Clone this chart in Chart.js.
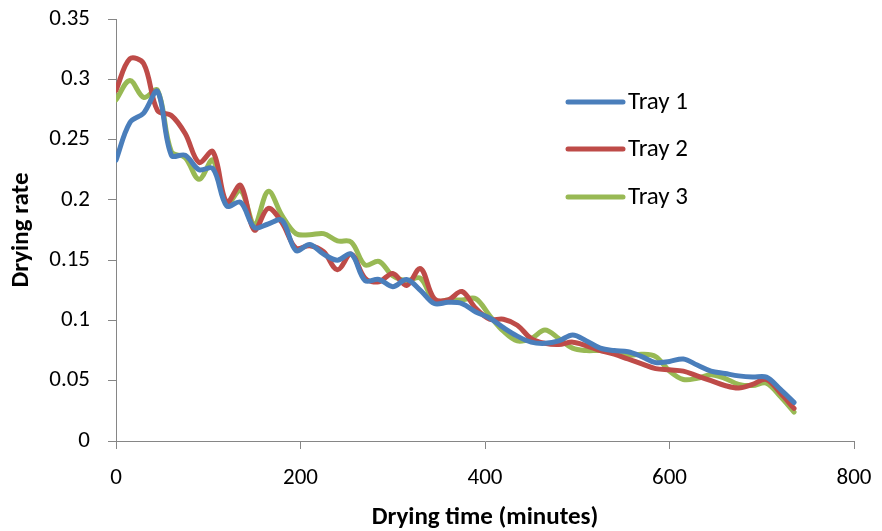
<!DOCTYPE html>
<html>
<head>
<meta charset="utf-8">
<script src="https://cdn.jsdelivr.net/npm/chart.js@4"></script>
<style>
  html, body { margin: 0; padding: 0; background: #fff; }
  #wrap { width: 882px; height: 531px; position: relative; }
</style>
</head>
<body>
<div id="wrap"><canvas id="chart" width="882" height="531"></canvas></div>
<script>
// ===== Drying rate vs time, three trays =====
const TIMES = [0, 15, 30, 45, 60, 75, 90, 105, 120, 135, 150, 165, 180, 195, 210, 225, 240, 255, 270, 285,
    300, 315, 330, 345, 360, 375, 390, 405, 420, 435, 450, 465, 480, 495, 510, 525, 540, 555, 570, 585,
    600, 615, 630, 645, 660, 675, 690, 705, 720, 735];

const TRAY1 = [0.233, 0.264, 0.272, 0.290, 0.237, 0.237, 0.225, 0.226, 0.195, 0.198, 0.177, 0.180, 0.183, 0.158, 0.163, 0.155, 0.150, 0.155, 0.133, 0.134,
    0.128, 0.134, 0.125, 0.114, 0.115, 0.114, 0.107, 0.102, 0.094, 0.087, 0.082, 0.081, 0.083, 0.088, 0.083, 0.077, 0.075, 0.074, 0.070, 0.065,
    0.066, 0.068, 0.063, 0.058, 0.056, 0.054, 0.053, 0.053, 0.043, 0.032];

const TRAY2 = [0.291, 0.317, 0.313, 0.274, 0.270, 0.255, 0.231, 0.240, 0.198, 0.212, 0.175, 0.193, 0.181, 0.160, 0.162, 0.157, 0.142, 0.155, 0.135, 0.132,
    0.139, 0.129, 0.143, 0.118, 0.117, 0.124, 0.110, 0.101, 0.101, 0.096, 0.085, 0.081, 0.080, 0.082, 0.079, 0.075, 0.072, 0.068, 0.064, 0.060,
    0.059, 0.058, 0.054, 0.050, 0.046, 0.044, 0.047, 0.051, 0.040, 0.027];

const TRAY3 = [0.283, 0.299, 0.285, 0.291, 0.240, 0.235, 0.217, 0.233, 0.196, 0.208, 0.180, 0.207, 0.187, 0.172, 0.171, 0.172, 0.166, 0.165, 0.146, 0.149,
    0.137, 0.133, 0.135, 0.116, 0.117, 0.117, 0.118, 0.104, 0.091, 0.083, 0.085, 0.092, 0.085, 0.077, 0.075, 0.075, 0.073, 0.071, 0.072, 0.070,
    0.058, 0.051, 0.052, 0.055, 0.052, 0.047, 0.046, 0.048, 0.037, 0.024];

const SERIES_NAMES = ['Tray 1', 'Tray 2', 'Tray 3'];
const SERIES_COLORS = ['#4A7EBB', '#BE4B48', '#98B954'];
const X_TICKS = [0, 200, 400, 600, 800];
const Y_TICKS = [0, 0.05, 0.1, 0.15, 0.2, 0.25, 0.3, 0.35];

const FONT = 'Carlito, Lato, "Open Sans", sans-serif';
const AXIS_GRAY = '#868686';

function toPoints(ys) {
    return TIMES.map((t, i) => ({ x: t, y: ys[i] }));
}

// legend drawn inside the plot, like the original
const insideLegend = {
    id: 'insideLegend',
    afterDraw(chart) {
        const ctx = chart.ctx;
        const x0 = 568, x1 = 623, rows = [102, 149, 197];
        ctx.save();
        ctx.font = '25px ' + FONT;
        ctx.textBaseline = 'middle';
        ctx.textAlign = 'left';
        chart.data.datasets.forEach((ds, i) => {
            ctx.strokeStyle = ds.borderColor;
            ctx.lineWidth = 5;
            ctx.lineCap = 'round';
            ctx.beginPath();
            ctx.moveTo(x0, rows[i]);
            ctx.lineTo(x1, rows[i]);
            ctx.stroke();
            ctx.fillStyle = '#000';
            ctx.fillText(ds.label, x1 + 5, rows[i] + 1);
        });
        ctx.restore();
    }
};

const datasets = [TRAY1, TRAY2, TRAY3].map((ys, i) => ({
    label: SERIES_NAMES[i],
    data: toPoints(ys),
    borderColor: SERIES_COLORS[i],
    backgroundColor: SERIES_COLORS[i],
    borderWidth: 5,
    pointRadius: 0,
    tension: 0.35,
    borderCapStyle: 'round',
    borderJoinStyle: 'round',
    fill: false,
}));

new Chart(document.getElementById('chart'), {
    type: 'line',
    data: { datasets },
    options: {
        responsive: false,
        animation: false,
        layout: { padding: { left: 0, right: 28, top: 19, bottom: 0 } },
        plugins: { legend: { display: false }, tooltip: { enabled: false } },
        scales: {
            x: {
                type: 'linear',
                min: 0, max: 800,
                afterBuildTicks: s => { s.ticks = X_TICKS.map(v => ({ value: v })); },
                afterFit: s => { s.height = 90; s.paddingLeft = 0; s.paddingRight = 0; },
                grid: { drawOnChartArea: false, drawTicks: true, tickLength: 8, color: AXIS_GRAY },
                border: { color: AXIS_GRAY, width: 1 },
                ticks: { color: '#000', font: { family: FONT, size: 23 }, padding: 15, maxRotation: 0 },
                title: {
                    display: true, text: 'Drying time (minutes)', color: '#000',
                    font: { family: FONT, size: 25, weight: 'bold', lineHeight: 1 }, padding: { top: 0, bottom: 1 }
                }
            },
            y: {
                min: 0, max: 0.35,
                afterBuildTicks: s => { s.ticks = Y_TICKS.map(v => ({ value: v })); },
                afterFit: s => { s.width = 116; s.paddingTop = 0; s.paddingBottom = 0; },
                grid: { drawOnChartArea: false, drawTicks: true, tickLength: 8, color: AXIS_GRAY },
                border: { color: AXIS_GRAY, width: 1 },
                ticks: {
                    color: '#000', font: { family: FONT, size: 23 }, padding: 18,
                    callback: v => String(Number(v.toFixed(2)))
                },
                title: {
                    display: true, text: 'Drying rate', color: '#000',
                    font: { family: FONT, size: 25, weight: 'bold', lineHeight: 1 }, padding: { top: 9, bottom: 0 }
                }
            }
        }
    },
    plugins: [insideLegend]
});
</script>
</body>
</html>
